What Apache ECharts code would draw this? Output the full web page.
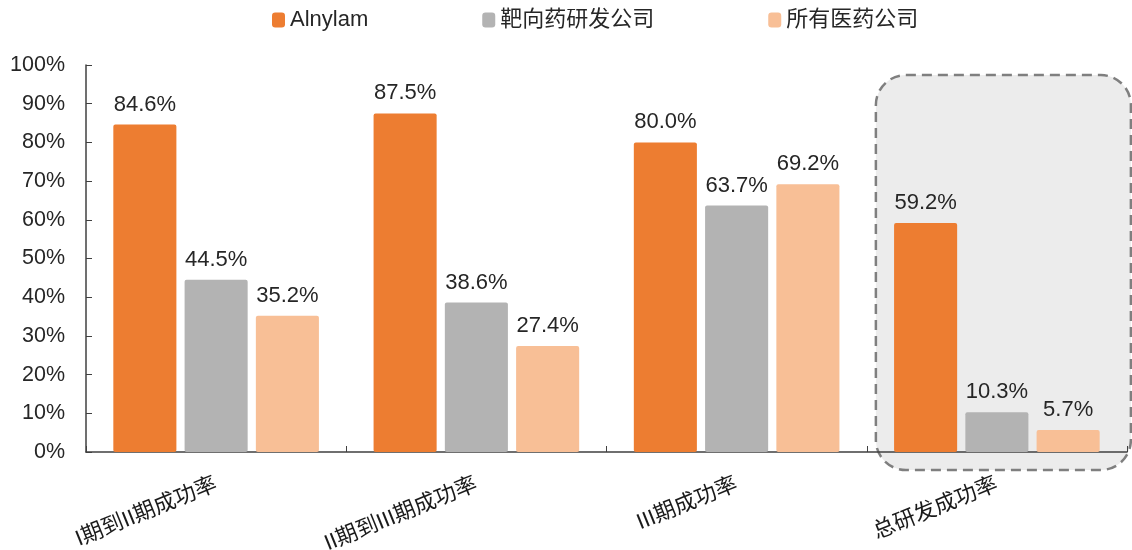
<!DOCTYPE html>
<html><head><meta charset="utf-8">
<script src="https://cdn.jsdelivr.net/npm/echarts@6/dist/echarts.min.js"></script>
<style>html,body{margin:0;padding:0;background:#fff}#c{width:1132px;height:550px}</style>
</head><body><div id="c"></div>
<script>
const categories = ['I期到II期成功率', 'II期到III期成功率', 'III期成功率', '总研发成功率'];
const seriesNames = ['Alnylam', '靶向药研发公司', '所有医药公司'];
const alnylam = [84.6, 87.5, 80.0, 59.2];
const targeted = [44.5, 38.6, 63.7, 10.3];
const allPharma = [35.2, 27.4, 69.2, 5.7];
const yTicks = [0, 10, 20, 30, 40, 50, 60, 70, 80, 90, 100];
const highlightCategory = '总研发成功率';

const colors = ['#ED7D31', '#B3B3B3', '#F8BF96'];
const FONT = '"Liberation Sans", Arial, "Noto Sans CJK SC", sans-serif';
const chart = echarts.init(document.getElementById('c'), null, {renderer: 'canvas'});

function mk(name, data, i) {
  return {
    name: name, type: 'bar', data: data,
    barCategoryGap: '21%', barGap: '13%',
    itemStyle: {color: colors[i], borderRadius: 2},
    label: {show: true, position: 'top', distance: 9, color: '#262626', fontSize: 22, fontFamily: FONT,
      formatter: p => p.value.toFixed(1) + '%'}
  };
}

chart.setOption({
  animation: false,
  textStyle: {fontFamily: FONT},
  legend: {
    data: seriesNames, left: 267, top: 4, itemGap: 114, itemWidth: 13, itemHeight: 15,
    icon: 'roundRect',
    textStyle: {fontSize: 22, color: '#262626', fontFamily: FONT}
  },
  grid: {left: 86, right: 5, top: 65, bottom: 98, containLabel: false, outerBoundsMode: 'none'},
  xAxis: {
    type: 'category', data: categories,
    axisLine: {lineStyle: {color: '#404040', width: 1.5}},
    axisTick: {show: true, inside: true, length: 6, lineStyle: {color: '#404040'}},
    axisLabel: {rotate: 22, margin: 32, fontSize: 22, color: '#1a1a1a', fontFamily: FONT}
  },
  yAxis: {
    type: 'value', min: yTicks[0], max: yTicks[yTicks.length - 1], interval: yTicks[1] - yTicks[0],
    axisLine: {show: true, lineStyle: {color: '#404040', width: 1.5}},
    axisTick: {show: true, inside: true, length: 6, lineStyle: {color: '#404040'}},
    splitLine: {show: false},
    axisLabel: {margin: 21, fontSize: 21.5, color: '#262626', fontFamily: FONT, formatter: v => v + '%'}
  },
  series: [mk(seriesNames[0], alnylam, 0), mk(seriesNames[1], targeted, 1), mk(seriesNames[2], allPharma, 2)]
});

const cx = chart.convertToPixel({xAxisIndex: 0}, highlightCategory);
const yTop = chart.convertToPixel({yAxisIndex: 0}, 97.4);
const yZero = chart.convertToPixel({yAxisIndex: 0}, 0);
chart.setOption({
  graphic: [{
    type: 'rect', z: -10, silent: true,
    shape: {x: cx - 121, y: yTop, width: 255, height: yZero + 18 - yTop, r: 30},
    style: {fill: '#ECECEC', stroke: '#7F7F7F', lineWidth: 2.5, lineDash: [10, 6]}
  }]
});
</script></body></html>
